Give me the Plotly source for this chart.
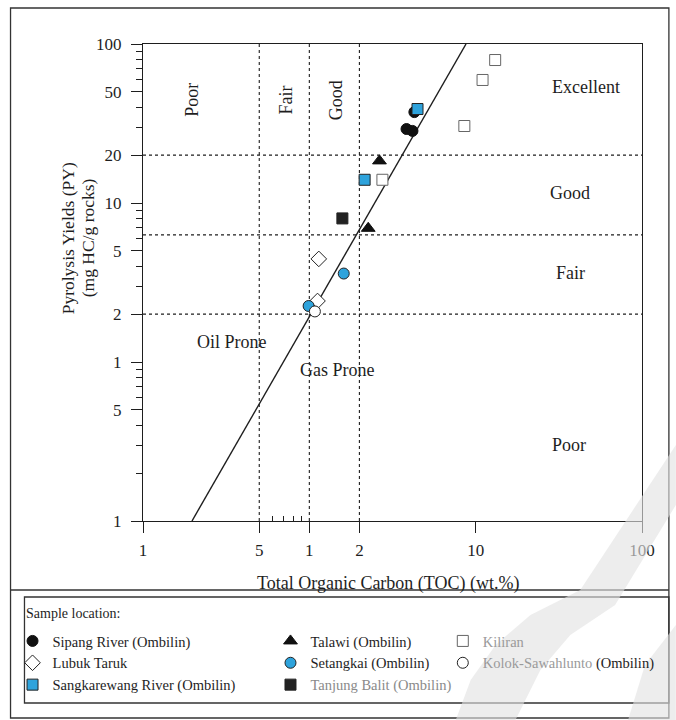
import plotly.graph_objects as go

# ---------------- data ----------------
sipang_toc = [4.28, 3.84, 4.17]
sipang_py = [37.3, 29.2, 28.4]
talawi_toc = [2.64, 2.26]
talawi_py = [18.4, 6.93]
kiliran_toc = [13.1, 11.0, 8.55, 2.75]
kiliran_py = [79.3, 59.4, 30.5, 14.0]
lubuk_toc = [1.14, 1.12]
lubuk_py = [4.45, 2.42]
setangkai_toc = [1.61, 0.99]
setangkai_py = [3.6, 2.25]
kolok_toc = [1.08]
kolok_py = [2.08]
sangkarewang_toc = [4.47, 2.15]
sangkarewang_py = [39.0, 14.0]
tanjung_toc = [1.58]
tanjung_py = [8.0]

toc_bounds = [0.5, 1, 2]
py_bounds = [2, 6.3, 20]
line_toc = [0.197, 8.75]
line_py = [0.1, 100]

x_tickvals = [0.1, 0.5, 1, 2, 10, 100]
x_ticktext = ["1", "5", "1", "2", "10", "100"]
x_minor = [0.6, 0.7, 0.8, 0.9]
y_tickvals = [100, 50, 20, 10, 5, 2, 1, 0.5, 0.1]
y_ticktext = ["100", "50", "20", "10", "5", "2", "1", "5", "1"]
y_minor = [m * d for d in (0.1, 1, 10) for m in (2, 3, 4, 6, 7, 8, 9)]

# ---------------- layout geometry (pixels) ----------------
W, H = 676, 720
L, R, T, B = 141, 642, 44, 521
FONT = "Liberation Serif"
INK = "#1e1e1e"


def px(x):
    return (x - L) / (R - L)


def py(y):
    return (B - y) / (B - T)


fig = go.Figure()

# class boundaries (dashed)
for v in toc_bounds:
    fig.add_trace(go.Scatter(x=[v, v], y=[0.1, 100], mode="lines",
                             line=dict(color=INK, width=1.1, dash="3px,3px"),
                             showlegend=False, hoverinfo="skip"))
for v in py_bounds:
    fig.add_trace(go.Scatter(x=[0.1, 100], y=[v, v], mode="lines",
                             line=dict(color=INK, width=1.1, dash="3px,3px"),
                             showlegend=False, hoverinfo="skip"))
# oil/gas prone line
fig.add_trace(go.Scatter(x=line_toc, y=line_py, mode="lines",
                         line=dict(color=INK, width=1.4),
                         showlegend=False, hoverinfo="skip"))

MS = 11
BLUE = "#2ea3dc"
series = [
    ("Sipang River (Ombilin)", sipang_toc, sipang_py,
     dict(symbol="circle", color="#111", size=MS, line=dict(color="#111", width=1)), "legend"),
    ("Lubuk Taruk", lubuk_toc, lubuk_py,
     dict(symbol="diamond", color="white", size=MS + 1, line=dict(color="#222", width=1)), "legend"),
    ("Sangkarewang River (Ombilin)", sangkarewang_toc, sangkarewang_py,
     dict(symbol="square", color=BLUE, size=MS, line=dict(color="#222", width=1)), "legend"),
    ("Talawi (Ombilin)", talawi_toc, talawi_py,
     dict(symbol="triangle-up", color="#111", size=MS + 1, line=dict(color="#111", width=1)), "legend2"),
    ("Setangkai (Ombilin)", setangkai_toc, setangkai_py,
     dict(symbol="circle", color=BLUE, size=MS, line=dict(color="#222", width=1)), "legend2"),
    ('<span style="color:#8a8a8a">Tanjung Balit (Ombilin)</span>', tanjung_toc, tanjung_py,
     dict(symbol="square", color="#222", size=MS, line=dict(color="#222", width=1)), "legend2"),
    ('<span style="color:#9a9a9a">Kiliran</span>', kiliran_toc, kiliran_py,
     dict(symbol="square", color="white", size=MS, line=dict(color="#666", width=1)), "legend3"),
    ('<span style="color:#9a9a9a">Kolok-Sawahlunto</span> (Ombilin)', kolok_toc, kolok_py,
     dict(symbol="circle", color="white", size=MS, line=dict(color="#222", width=1)), "legend3"),
]
for i, (name, xs, ys, mk, lg) in enumerate(series):
    fig.add_trace(go.Scatter(x=xs, y=ys, mode="markers", name=name, marker=mk,
                             legend=lg, legendgroup="g%d" % i))

axis_common = dict(type="log", showgrid=False, zeroline=False,
                   showline=True, linecolor=INK, linewidth=1.2, mirror=True,
                   ticks="outside", tickcolor=INK, ticklen=11, tickwidth=1,
                   tickfont=dict(family=FONT, size=17, color=INK))
fig.update_xaxes(range=[-1, 2], tickmode="array", tickvals=x_tickvals, ticktext=x_ticktext,
                 ticklabelstandoff=2,
                 minor=dict(tickvals=x_minor, ticks="inside", ticklen=5, tickcolor=INK),
                 **axis_common)
fig.update_yaxes(range=[-1, 2], tickmode="array", tickvals=y_tickvals, ticktext=y_ticktext,
                 ticklabelstandoff=6,
                 minor=dict(tickvals=y_minor, ticks="outside", ticklen=6, tickcolor=INK),
                 **axis_common)

ann = []


def add_text(x, y, text, size=18, angle=0, color=INK, xanchor="center"):
    ann.append(dict(x=px(x), y=py(y), xref="paper", yref="paper", text=text, showarrow=False,
                    textangle=angle, xanchor=xanchor, yanchor="middle",
                    font=dict(family=FONT, size=size, color=color)))


add_text(190, 100, "Poor", angle=-90)
add_text(285, 100, "Fair", angle=-90)
add_text(335, 100, "Good", angle=-90)
add_text(586, 87, "Excellent")
add_text(570, 193, "Good")
add_text(570, 273, "Fair")
add_text(569, 445, "Poor")
add_text(230, 342, "Oil Prone")
add_text(336, 370, "Gas Prone")
add_text(387, 583, "Total Organic Carbon (TOC) (wt.%)", size=18)
add_text(66, 238, "Pyrolysis Yields (PY)", size=17.5, angle=-90)
add_text(86, 238, "(mg HC/g rocks)", size=17.5, angle=-90)
add_text(22, 613, "Sample location:", size=14, xanchor="left")

shapes = [
    dict(type="rect", xref="paper", yref="paper", x0=px(8), x1=px(669), y0=py(718), y1=py(8),
         line=dict(color="#333", width=1.3), layer="below"),
    dict(type="line", xref="paper", yref="paper", x0=px(8), x1=px(669), y0=py(590), y1=py(590),
         line=dict(color="#333", width=1.3), layer="below"),
    dict(type="rect", xref="paper", yref="paper", x0=px(22), x1=px(669), y0=py(703), y1=py(597),
         line=dict(color="#333", width=1.3), layer="below"),
]


def path(pts):
    s = "M %f %f" % (px(pts[0][0]), py(pts[0][1]))
    for x, y in pts[1:]:
        s += " L %f %f" % (px(x), py(y))
    return s + " Z"


swoosh = [(455, 720), (470, 680), (495, 645), (530, 615), (580, 590), (676, 445),
          (676, 505), (615, 605), (570, 635), (540, 670), (515, 720)]
corner = [(628, 720), (645, 665), (676, 625), (676, 720)]
for pts in (swoosh, corner):
    shapes.append(dict(type="path", xref="paper", yref="paper", path=path(pts),
                       fillcolor="rgba(226,226,226,0.62)", line=dict(width=0), layer="above"))

leg_common = dict(font=dict(family=FONT, size=14.5, color=INK), bgcolor="rgba(0,0,0,0)",
                  xanchor="left", yanchor="top", orientation="v", tracegroupgap=0,
                  traceorder="grouped")
fig.update_layout(
    width=W, height=H,
    margin=dict(l=L, r=W - R, t=T, b=H - B),
    paper_bgcolor="white", plot_bgcolor="white",
    showlegend=True,
    legend=dict(x=px(10), y=py(625), **leg_common),
    legend2=dict(x=px(269), y=py(625), **leg_common),
    legend3=dict(x=px(442), y=py(625), **leg_common),
    annotations=ann, shapes=shapes,
)

fig.write_html("out.html",
               config={"displayModeBar": False, "staticPlot": True},
               post_script="document.body.style.margin='0px';document.body.style.overflow='hidden';")
